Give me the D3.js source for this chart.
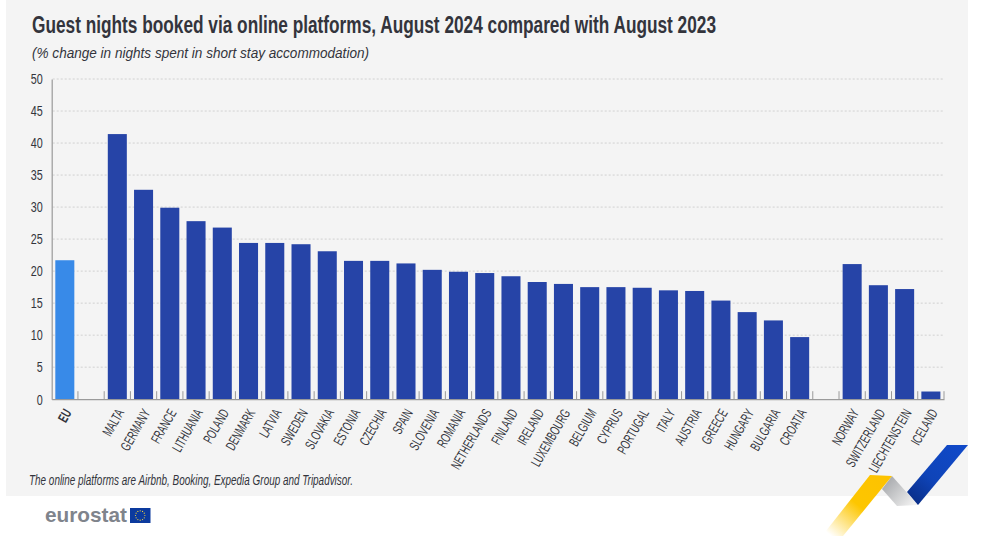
<!DOCTYPE html>
<html>
<head>
<meta charset="utf-8">
<script src="https://cdn.jsdelivr.net/npm/d3@7"></script>
<style>
    body { margin: 0; background: #fff; }
    svg { display: block; }
    text { font-family: "Liberation Sans", sans-serif; fill: #33343c; }
</style>
</head>
<body>
<div id="chart"></div>
<script>
// Data, blank slots are the gaps between the groups
const categories = ["EU", " ", "MALTA", "GERMANY", "FRANCE", "LITHUANIA", "POLAND", "DENMARK", "LATVIA",
    "SWEDEN", "SLOVAKIA", "ESTONIA", "CZECHIA", "SPAIN", "SLOVENIA", "ROMANIA", "NETHERLANDS", "FINLAND",
    "IRELAND", "LUXEMBOURG", "BELGIUM", "CYPRUS", "PORTUGAL", "ITALY", "AUSTRIA", "GREECE", "HUNGARY",
    "BULGARIA", "CROATIA", "  ", "NORWAY", "SWITZERLAND", "LIECHTENSTEIN", "ICELAND"];
const values = [21.7, null, 41.4, 32.7, 29.9, 27.8, 26.8, 24.4, 24.4,
    24.2, 23.1, 21.6, 21.6, 21.2, 20.2, 19.9, 19.7, 19.2,
    18.3, 18.0, 17.5, 17.5, 17.4, 17.0, 16.9, 15.4, 13.6,
    12.3, 9.7, null, 21.1, 17.8, 17.2, 1.2];
const yTicks = [0, 5, 10, 15, 20, 25, 30, 35, 40, 45, 50];

const titleText = "Guest nights booked via online platforms, August 2024 compared with August 2023";
const subtitleText = "(% change in nights spent in short stay accommodation)";
const noteText = "The online platforms are Airbnb, Booking, Expedia Group and Tripadvisor.";

// SVG properties
const width = 997,
    height = 545,
    left = 51.7,
    right = 944,
    top_ = 79,
    bottom = 399.2,
    narrow = 0.72, // no condensed font here, so text gets squeezed
    narrowLabels = 0.64;

const svg = d3.select("#chart")
    .append("svg")
    .attr("width", width)
    .attr("height", height);

const defs = svg.append("defs");

function addGradient(id, x1, y1, x2, y2, stops) {
    const grad = defs.append("linearGradient")
        .attr("id", id)
        .attr("gradientUnits", "userSpaceOnUse")
        .attr("x1", x1).attr("y1", y1).attr("x2", x2).attr("y2", y2);
    stops.forEach(s => grad.append("stop")
        .attr("offset", s[0])
        .attr("stop-color", s[1])
        .attr("stop-opacity", s[2]));
}
addGradient("ribbonBlue", 958, 445, 912, 500, [[0, "#1049c8", 1], [0.6, "#0f44b8", 1], [1, "#0a2f8a", 1]]);
addGradient("ribbonGrey", 885, 482, 912, 506, [[0, "#a9abae", 1], [1, "#f1f1f1", 1]]);
addGradient("ribbonYellow", 878, 478, 830, 535, [[0, "#fdc300", 1], [0.45, "#fdc600", 1], [1, "#fdc600", 0]]);

// panel
svg.append("rect")
    .attr("x", 6)
    .attr("y", 0)
    .attr("width", 962)
    .attr("height", 496)
    .attr("fill", "#f4f4f4");

// title block
svg.append("text")
    .attr("x", 32)
    .attr("y", 33)
    .attr("font-size", 23.5)
    .attr("font-weight", 700)
    .attr("textLength", 684)
    .attr("lengthAdjust", "spacingAndGlyphs")
    .text(titleText);

svg.append("text")
    .attr("x", 32)
    .attr("y", 58)
    .attr("font-size", 15.5)
    .attr("font-style", "italic")
    .attr("textLength", 337)
    .attr("lengthAdjust", "spacingAndGlyphs")
    .text(subtitleText);

// scales
const xScale = d3.scaleBand()
    .domain(categories)
    .range([left, right])
    .paddingInner(0.275)
    .paddingOuter(0.1375);

const yScale = d3.scaleLinear()
    .domain([0, 50])
    .range([bottom, top_]);

// gridlines
svg.append("g")
    .selectAll("line")
    .data(yTicks.filter(d => d > 0))
    .enter()
    .append("line")
    .attr("x1", left + 1)
    .attr("x2", right)
    .attr("y1", d => yScale(d))
    .attr("y2", d => yScale(d))
    .attr("stroke", "#cdcdcd")
    .attr("stroke-width", 0.9)
    .attr("stroke-dasharray", "2 2");

// bars
svg.append("g")
    .selectAll("rect")
    .data(categories.map((c, i) => ({ name: c, value: values[i] })).filter(d => d.value !== null))
    .enter()
    .append("rect")
    .attr("x", d => xScale(d.name))
    .attr("y", d => yScale(d.value))
    .attr("width", xScale.bandwidth())
    .attr("height", d => bottom - yScale(d.value))
    .attr("fill", d => d.name === "EU" ? "#388ae8" : "#2644a7");

// y-axis
const yAxis = d3.axisLeft(yScale)
    .tickValues(yTicks)
    .tickSize(0);

const yG = svg.append("g")
    .attr("transform", `translate(${ left }, 0)`)
    .call(yAxis);
yG.select(".domain").attr("stroke", "#9a9a9a").attr("stroke-width", 1.2);
yG.selectAll("text")
    .attr("x", 0)
    .attr("transform", `translate(-9, 0) scale(${ narrow }, 1)`)
    .attr("font-size", 15)
    .style("font-family", "\"Liberation Sans\", sans-serif")
    .attr("fill", "#33343c");

// x-axis, ticks sit between the bars and point up
const xAxis = d3.axisBottom(xScale)
    .tickSize(0)
    .tickPadding(0);

const xG = svg.append("g")
    .attr("transform", `translate(0, ${ bottom })`)
    .call(xAxis);
xG.select(".domain").attr("stroke", "#9a9a9a").attr("stroke-width", 1.2);
xG.selectAll("text")
    .attr("font-size", 14)
    .attr("text-anchor", "end")
    .attr("dy", "0.35em")
    .attr("y", 0)
    .attr("transform", `translate(3, 11) rotate(-60) scale(${ narrowLabels }, 1)`)
    .style("font-family", "\"Liberation Sans\", sans-serif")
    .attr("font-weight", d => d === "EU" ? 700 : 400)
    .attr("fill", "#33343c");

const step = xScale.step();
xG.selectAll(".boundary")
    .data(categories)
    .enter()
    .append("line")
    .attr("class", "boundary")
    .attr("x1", d => xScale(d) + xScale.bandwidth() + (step - xScale.bandwidth()) / 2)
    .attr("x2", d => xScale(d) + xScale.bandwidth() + (step - xScale.bandwidth()) / 2)
    .attr("y1", 0)
    .attr("y2", -8)
    .attr("stroke", "#9a9a9a")
    .attr("stroke-width", 1);

// footnote
svg.append("text")
    .attr("x", 29)
    .attr("y", 485)
    .attr("font-size", 14.5)
    .attr("font-style", "italic")
    .attr("textLength", 324)
    .attr("lengthAdjust", "spacingAndGlyphs")
    .text(noteText);

// eurostat logo
svg.append("text")
    .attr("x", 45)
    .attr("y", 522)
    .attr("font-size", 21)
    .attr("font-weight", 700)
    .style("fill", "#7f848c")
    .attr("textLength", 82)
    .attr("lengthAdjust", "spacingAndGlyphs")
    .text("eurostat");

svg.append("rect")
    .attr("x", 130)
    .attr("y", 508)
    .attr("width", 20.5)
    .attr("height", 15)
    .attr("fill", "#0c3a9e");

svg.append("g")
    .selectAll("circle")
    .data(d3.range(12))
    .enter()
    .append("circle")
    .attr("cx", d => 140.2 + 4.7 * Math.cos(d * Math.PI / 6))
    .attr("cy", d => 515.5 + 4.7 * Math.sin(d * Math.PI / 6))
    .attr("r", 0.6)
    .attr("fill", "#f5d33a");

// ribbon
const ribbons = [
    ["ribbonGrey", "892,476 918,505 897,506 882,489"],
    ["ribbonYellow", "870,475 892,476 843,536 822,536"],
    ["ribbonBlue", "947,445 968,445 918,505 907,492"]
];
svg.append("g")
    .selectAll("polygon")
    .data(ribbons)
    .enter()
    .append("polygon")
    .attr("points", d => d[1])
    .attr("fill", d => `url(#${ d[0] })`);
</script>
</body>
</html>
